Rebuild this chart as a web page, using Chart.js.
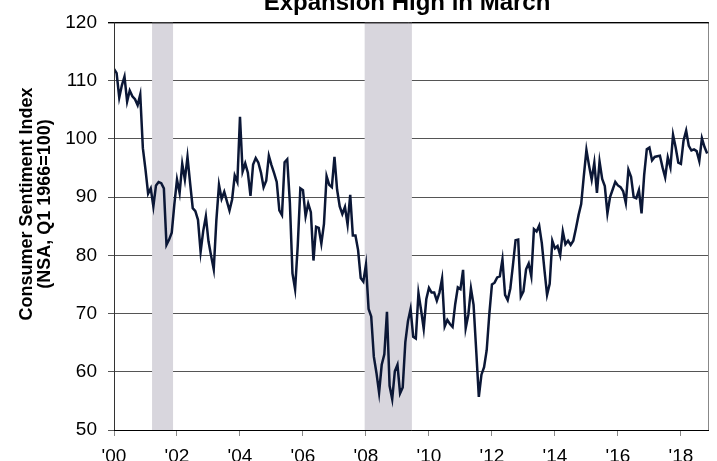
<!DOCTYPE html>
<html>
<head>
<meta charset="utf-8">
<script src="https://cdn.jsdelivr.net/npm/chart.js@4"></script>
<style>
  html, body { margin: 0; padding: 0; background: #fff; overflow: hidden; }
  #wrap { position: relative; width: 717px; height: 461px; }
</style>
</head>
<body>
<div id="wrap"><canvas id="sentiment-chart" width="717" height="461"></canvas></div>
<script>
// ─── Data: UMich consumer sentiment, monthly, Jan 2000 – Nov 2018 ───
const startYear = 2000;
const sentiment = [
  112.0, 111.3, 107.1, 109.2, 110.7, 106.4, 108.3, 107.3, 106.8, 105.8, 107.6, 98.4,
  94.7, 90.6, 91.5, 88.4, 92.0, 92.6, 92.4, 91.5, 81.8, 82.7, 83.9, 88.8,
  93.0, 90.7, 95.7, 93.0, 96.9, 92.4, 88.1, 87.6, 86.1, 80.6, 84.2, 86.7,
  82.4, 79.9, 77.6, 86.0, 92.1, 89.7, 90.9, 89.3, 87.7, 89.6, 93.7, 92.6,
  103.8, 94.4, 95.8, 94.2, 90.2, 95.6, 96.7, 95.9, 94.2, 91.7, 92.8, 97.1,
  95.5, 94.1, 92.6, 87.7, 86.9, 96.0, 96.5, 89.1, 76.9, 74.2, 81.6, 91.5,
  91.2, 86.7, 88.9, 87.4, 79.1, 84.9, 84.7, 82.0, 85.4, 93.6, 92.1, 91.7,
  96.9, 91.3, 88.4, 87.1, 88.3, 85.3, 90.4, 83.4, 83.4, 80.9, 76.1, 75.5,
  78.4, 70.8, 69.5, 62.6, 59.8, 56.4, 61.2, 63.0, 70.3, 57.6, 55.3, 60.1,
  61.2, 56.3, 57.3, 65.1, 68.7, 70.8, 66.0, 65.7, 73.5, 70.6, 67.4, 72.5,
  74.4, 73.6, 73.6, 72.2, 73.6, 76.0, 67.8, 68.9, 68.2, 67.7, 71.6, 74.5,
  74.2, 77.5, 67.5, 69.8, 74.3, 71.5, 63.7, 55.7, 59.5, 60.8, 63.7, 69.9,
  75.0, 75.3, 76.2, 76.4, 79.3, 73.2, 72.3, 74.3, 78.3, 82.6, 82.7, 72.9,
  73.8, 77.6, 78.6, 76.4, 84.5, 84.1, 85.1, 82.1, 77.5, 73.2, 75.1, 82.5,
  81.2, 81.6, 80.0, 84.1, 81.9, 82.5, 81.8, 82.5, 84.6, 86.9, 88.8, 93.6,
  98.1, 95.4, 93.0, 95.9, 90.7, 96.1, 93.1, 91.9, 87.2, 90.0, 91.3, 92.6,
  92.0, 91.7, 91.0, 89.0, 94.7, 93.5, 90.0, 89.8, 91.2, 87.2, 93.8, 98.2,
  98.5, 96.3, 96.9, 97.0, 97.1, 95.1, 93.4, 96.8, 95.1, 100.7, 98.5, 95.9,
  95.7, 99.7, 101.4, 98.8, 98.0, 98.2, 97.9, 96.2, 100.1, 98.6, 97.5,
];

// x-axis ticks every two years
const tickYears = [2000, 2002, 2004, 2006, 2008, 2010, 2012, 2014, 2016, 2018];
const tickLabels = ["'00", "'02", "'04", "'06", "'08", "'10", "'12", "'14", "'16", "'18"];

// NBER recessions (year, month)
const recessionStarts = [[2001, 3], [2007, 12]];
const recessionEnds = [[2001, 11], [2009, 6]];

const chartTitle = 'Expansion High in March';
const yTitle = ['Consumer Sentiment Index', '(NSA, Q1 1966=100)'];

const FONT = "'Liberation Sans', Arial, sans-serif";
const monthIndex = (y, m) => (y - startYear) * 12 + (m - 1);

// ─── Plugins ───
const recessionBands = {
  id: 'recessionBands',
  beforeDatasetsDraw(chart) {
    const { ctx, chartArea, scales: { x } } = chart;
    ctx.save();
    ctx.fillStyle = '#d8d6dd';
    recessionStarts.forEach((s, i) => {
      const x0 = x.getPixelForValue(monthIndex(...s) + 0.5);
      const x1 = x.getPixelForValue(monthIndex(...recessionEnds[i]) + 0.5);
      ctx.fillRect(x0, chartArea.top, x1 - x0, chartArea.bottom - chartArea.top);
    });
    ctx.restore();
  },
};

const frameAndText = {
  id: 'frameAndText',
  afterDraw(chart) {
    const { ctx, chartArea: a } = chart;
    ctx.save();
    // plot frame
    ctx.lineWidth = 1;
    ctx.strokeStyle = '#888';
    ctx.beginPath();
    ctx.moveTo(a.right - 0.5, a.top);
    ctx.lineTo(a.right - 0.5, a.bottom);
    ctx.stroke();
    ctx.strokeStyle = '#000';
    ctx.beginPath();
    ctx.moveTo(a.left - 6, a.top + 0.5);
    ctx.lineTo(a.right, a.top + 0.5);
    ctx.moveTo(a.left, a.bottom + 0.5);
    ctx.lineTo(a.right, a.bottom + 0.5);
    ctx.stroke();
    ctx.strokeStyle = '#333';
    ctx.beginPath();
    ctx.moveTo(a.left + 0.5, a.top);
    ctx.lineTo(a.left + 0.5, a.bottom);
    ctx.stroke();

    // title (partly cut off at the top)
    ctx.fillStyle = '#000';
    ctx.font = 'bold 24px ' + FONT;
    ctx.textAlign = 'center';
    ctx.textBaseline = 'alphabetic';
    ctx.fillText(chartTitle, 407, 10);

    // y-axis title
    ctx.font = 'bold 18px ' + FONT;
    ctx.translate(0, 204);
    ctx.rotate(-Math.PI / 2);
    ctx.fillText(yTitle[0], 0, 32);
    ctx.fillText(yTitle[1], 0, 50);
    ctx.restore();
  },
};

// ─── Chart ───
const ctx = document.getElementById('sentiment-chart');
new Chart(ctx, {
  type: 'line',
  data: {
    datasets: [{
      label: 'Consumer Sentiment',
      data: sentiment.map((v, i) => ({ x: i, y: v })),
      borderColor: '#0b1736',
      borderWidth: 2.5,
      pointRadius: 0,
      tension: 0,
      fill: false,
    }],
  },
  options: {
    responsive: false,
    animation: false,
    devicePixelRatio: 1,
    layout: { padding: { top: 15, right: 8, bottom: 0, left: 0 } },
    plugins: {
      legend: { display: false },
      tooltip: { enabled: false },
      title: { display: false },
    },
    scales: {
      x: {
        type: 'linear',
        min: 0,
        max: 226.7,
        afterBuildTicks: (scale) => {
          scale.ticks = tickYears.map((y) => ({ value: monthIndex(y, 1) }));
        },
        afterFit: (scale) => { scale.height = 31; },
        border: { display: false },
        grid: {
          drawOnChartArea: false,
          drawTicks: true,
          tickLength: 6,
          color: '#888',
        },
        ticks: {
          autoSkip: false,
          maxRotation: 0,
          padding: 9,
          color: '#000',
          font: { family: FONT, size: 19 },
          callback: (v) => tickLabels[tickYears.indexOf(startYear + v / 12)] ?? '',
        },
      },
      y: {
        min: 50,
        max: 120,
        afterFit: (scale) => { scale.width = 114; },
        border: { display: false },
        grid: {
          color: (c) => (c.tick && c.tick.value === 120 ? '#000' : '#555'),
          tickLength: 6,
        },
        ticks: {
          stepSize: 10,
          padding: 11,
          color: '#000',
          font: { family: FONT, size: 19 },
        },
      },
    },
  },
  plugins: [recessionBands, frameAndText],
});
</script>
</body>
</html>
